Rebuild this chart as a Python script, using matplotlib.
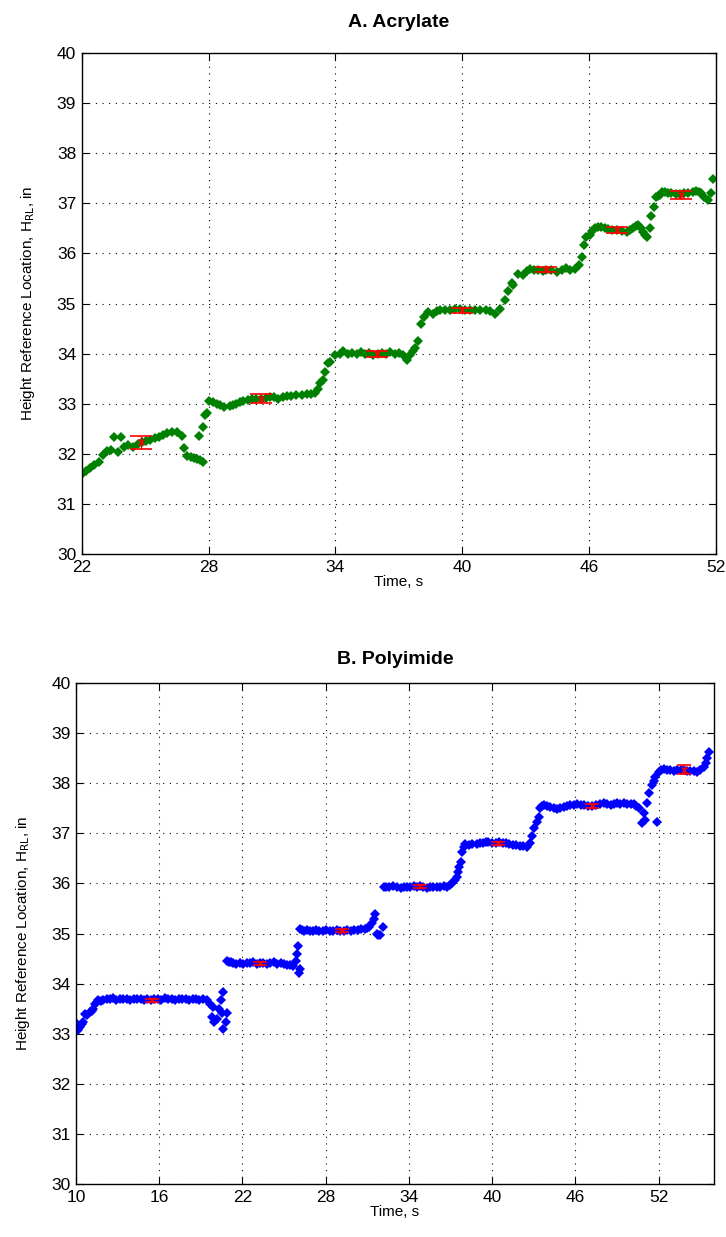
import matplotlib
matplotlib.use("Agg")
import matplotlib.pyplot as plt

plt.rcParams['font.family'] = ['Liberation Sans', 'DejaVu Sans']

# ----- Data: A. Acrylate (time s, height in) -----
acr_t = [22.0, 22.2, 22.4, 22.6, 22.8, 23.0, 23.2, 23.4, 23.55, 23.7, 23.85, 24.0,
         24.2, 24.45, 24.65, 24.85, 25.05, 25.25, 25.45, 25.65, 25.85, 26.05, 26.25,
         26.5, 26.75, 26.85, 26.97, 27.15, 27.3, 27.45, 27.6, 27.75, 27.55, 27.72,
         27.83, 27.92, 28.0, 28.2, 28.4, 28.55, 28.75, 29.0, 29.15, 29.3, 29.5, 29.65,
         29.85, 30.05, 30.25, 30.5, 30.7, 30.9, 31.1, 31.3, 31.5, 31.7, 31.9, 32.15,
         32.4, 32.65, 32.85, 33.05, 33.2, 33.28, 33.4, 33.5, 33.66, 33.75, 33.98, 34.2,
         34.37, 34.6, 34.8, 35.0, 35.2, 35.4, 35.6, 35.8, 36.0, 36.2, 36.4, 36.6, 36.8,
         37.0, 37.2, 37.37, 37.53, 37.65, 37.76, 37.92, 38.03, 38.19, 38.4, 38.63, 38.8,
         38.95, 39.2, 39.42, 39.65, 39.9, 40.15, 40.37, 40.6, 40.84, 41.1, 41.32, 41.55,
         41.79, 42.01, 42.17, 42.33, 42.41, 42.64, 42.88, 43.05, 43.2, 43.4, 43.59, 43.8,
         43.98, 44.2, 44.46, 44.7, 44.93, 45.1, 45.32, 45.53, 45.64, 45.75, 45.87, 46.03,
         46.15, 46.27, 46.4, 46.58, 46.75, 46.9, 47.1, 47.3, 47.55, 47.77, 47.95, 48.08,
         48.2, 48.32, 48.45, 48.55, 48.65, 48.74, 48.87, 48.95, 49.06, 49.15, 49.25,
         49.34, 49.45, 49.58, 49.75, 49.89, 50.1, 50.28, 50.5, 50.67, 50.9, 51.07, 51.2,
         51.3, 51.45, 51.62, 51.78, 51.86]
acr_h = [31.60, 31.65, 31.71, 31.78, 31.84, 31.98, 32.05, 32.08, 32.34, 32.04, 32.33, 32.14,
         32.18, 32.14, 32.20, 32.24, 32.26, 32.28, 32.31, 32.34, 32.38, 32.42, 32.44,
         32.43, 32.36, 32.11, 31.96, 31.93, 31.91, 31.89, 31.87, 31.83, 32.36, 32.54,
         32.77, 32.82, 33.06, 33.04, 33.00, 32.97, 32.93, 32.95, 32.98, 33.00, 33.03, 33.06,
         33.08, 33.10, 33.09, 33.10, 33.12, 33.14, 33.13, 33.10, 33.13, 33.15, 33.16, 33.17,
         33.18, 33.19, 33.20, 33.22, 33.30, 33.41, 33.47, 33.64, 33.82, 33.84, 33.97, 34.00,
         34.06, 34.00, 34.02, 33.99, 34.03, 34.00, 34.01, 33.98, 34.00, 34.02, 33.99, 34.03, 34.00,
         34.01, 33.98, 33.87, 33.97, 34.05, 34.12, 34.25, 34.59, 34.74, 34.84, 34.80, 34.86,
         34.88, 34.87, 34.88, 34.89, 34.90, 34.88, 34.87, 34.88, 34.87, 34.88, 34.86, 34.80,
         34.90, 35.07, 35.26, 35.42, 35.37, 35.60, 35.57, 35.65, 35.68, 35.66, 35.67, 35.65,
         35.67, 35.66, 35.63, 35.67, 35.70, 35.66, 35.68, 35.77, 35.93, 36.17, 36.33, 36.37,
         36.45, 36.50, 36.52, 36.53, 36.50, 36.48, 36.46, 36.47, 36.45, 36.43, 36.47, 36.50,
         36.54, 36.57, 36.50, 36.43, 36.37, 36.32, 36.50, 36.75, 36.92, 37.12, 37.15,
         37.17, 37.22, 37.23, 37.21, 37.20, 37.19, 37.18, 37.20, 37.20, 37.22, 37.25, 37.23,
         37.20, 37.13, 37.06, 37.21, 37.48]

# mean +/- error per step (red)
acr_eb_t = [24.8, 30.48, 35.95, 40.0, 43.98, 47.3, 50.33]
acr_eb_h = [32.23, 33.10, 34.00, 34.87, 35.67, 36.47, 37.17]
acr_eb_e = [0.125, 0.09, 0.06, 0.05, 0.05, 0.06, 0.08]

# ----- Data: B. Polyimide -----
poly_t = [9.95, 10.1, 10.17, 10.29, 10.4, 10.53, 10.65, 10.8, 11.01, 11.15, 11.25, 11.37,
          11.5, 11.61, 11.8, 11.97, 12.2, 12.45, 12.69, 12.9, 13.15, 13.4, 13.65, 13.9,
          14.15, 14.4, 14.65, 14.9, 15.15, 15.4, 15.65, 15.9, 16.15, 16.4, 16.65, 16.9,
          17.15, 17.4, 17.65, 17.9, 18.15, 18.4, 18.65, 18.9, 19.15, 19.42, 19.67, 19.79,
          19.91, 19.96, 20.15, 20.34, 20.44, 20.51, 20.58, 20.63, 20.8, 20.92,
          20.87, 21.0, 21.15, 21.35, 21.55, 21.8, 22.07, 22.3, 22.55, 22.79, 23.05, 23.27,
          23.5, 23.75, 24.0, 24.24, 24.5, 24.75, 25.0, 25.2, 25.45, 25.65, 25.85, 25.95,
          26.0, 26.05, 26.12,
          26.16, 26.3, 26.45, 26.64, 26.85, 27.08, 27.3, 27.55, 27.8, 28.05, 28.3, 28.55,
          28.8, 29.05, 29.3, 29.55, 29.8, 30.05, 30.3, 30.55, 30.8, 30.97, 31.15, 31.33,
          31.45, 31.57, 31.69, 31.8, 31.93, 32.12,
          32.17, 32.35, 32.6, 32.89, 33.15, 33.4, 33.65, 33.85, 34.09, 34.35, 34.6, 34.81,
          35.05, 35.3, 35.55, 35.77, 36.0, 36.25, 36.5, 36.73, 36.95, 37.09, 37.3, 37.45,
          37.55, 37.64, 37.76, 37.81, 37.95, 38.05, 38.3, 38.55, 38.89, 39.1, 39.35, 39.55,
          39.73, 40.0, 40.25, 40.5, 40.75, 41.0, 41.25, 41.5, 41.75, 42.0, 42.25, 42.5,
          42.7, 42.85, 42.99, 43.23, 43.35, 43.48, 43.6, 43.72, 43.95, 44.2, 44.45, 44.68,
          44.9, 45.15, 45.4, 45.65, 45.9, 46.12, 46.4, 46.65, 46.95, 47.2, 47.5, 47.75,
          48.04, 48.3, 48.55, 48.76, 49.0, 49.25, 49.48, 49.75, 50.0, 50.2, 50.4, 50.56,
          50.8, 50.92, 51.04, 51.16, 51.33, 51.52, 51.65, 51.76, 51.88, 52.0, 52.2, 52.36,
          52.6, 52.84, 53.1, 53.35, 53.6, 53.8, 54.05, 54.3, 54.55, 54.77, 55.0, 55.25,
          55.4, 55.49, 55.61]
poly_h = [33.24, 33.12, 33.07, 33.14, 33.20, 33.24, 33.40, 33.38, 33.43, 33.45, 33.50, 33.60,
          33.63, 33.67, 33.66, 33.68, 33.70, 33.69, 33.72, 33.68, 33.70, 33.69, 33.70, 33.68,
          33.70, 33.69, 33.70, 33.68, 33.70, 33.68, 33.69, 33.70, 33.68, 33.71, 33.69, 33.70,
          33.68, 33.70, 33.69, 33.70, 33.68, 33.69, 33.70, 33.68, 33.69, 33.67, 33.60, 33.33,
          33.53, 33.24, 33.29, 33.50, 33.67, 33.42, 33.84, 33.09, 33.24, 33.42,
          34.45, 34.44, 34.43, 34.42, 34.40, 34.41, 34.39, 34.41, 34.42, 34.44, 34.40, 34.41,
          34.42, 34.40, 34.42, 34.44, 34.40, 34.41, 34.39, 34.38, 34.37, 34.36, 34.45, 34.60,
          34.75, 34.22, 34.30,
          35.10, 35.08, 35.06, 35.08, 35.05, 35.06, 35.07, 35.05, 35.06, 35.07, 35.05, 35.06,
          35.07, 35.05, 35.06, 35.07, 35.06, 35.08, 35.07, 35.09, 35.10, 35.11, 35.14, 35.21,
          35.30, 35.40, 35.00, 34.98, 34.97, 35.14,
          35.92, 35.93, 35.92, 35.94, 35.93, 35.90, 35.92, 35.93, 35.93, 35.94, 35.92, 35.94,
          35.93, 35.91, 35.93, 35.92, 35.93, 35.92, 35.94, 35.93, 35.96, 36.00, 36.06, 36.13,
          36.22, 36.32, 36.43, 36.63, 36.72, 36.78, 36.77, 36.78, 36.79, 36.80, 36.80, 36.82,
          36.83, 36.80, 36.81, 36.82, 36.80, 36.81, 36.78, 36.77, 36.76, 36.75, 36.74, 36.73,
          36.80, 36.95, 37.10, 37.23, 37.33, 37.50, 37.54, 37.56, 37.54, 37.52, 37.50, 37.48,
          37.50, 37.53, 37.55, 37.56, 37.57, 37.58, 37.56, 37.57, 37.55, 37.55, 37.57, 37.58,
          37.60, 37.59, 37.57, 37.58, 37.60, 37.59, 37.61, 37.59, 37.58, 37.58, 37.55, 37.50,
          37.21, 37.40, 37.26, 37.60, 37.80, 37.96, 38.05, 38.13, 37.23, 38.23, 38.26, 38.28,
          38.27, 38.26, 38.25, 38.27, 38.26, 38.26, 38.25, 38.24, 38.25, 38.23, 38.26, 38.32,
          38.40, 38.50, 38.63]

poly_eb_t = [15.46, 23.27, 29.17, 34.81, 40.4, 47.2, 53.8]
poly_eb_h = [33.67, 34.41, 35.06, 35.94, 36.80, 37.55, 38.27]
poly_eb_e = [0.03, 0.03, 0.03, 0.03, 0.03, 0.04, 0.09]

y_ticks = list(range(30, 41))
acr_xticks = [22, 28, 34, 40, 46, 52]
poly_xticks = [10, 16, 22, 28, 34, 40, 46, 52]


def style_axes(ax, xlim, xticks, title, title_pad):
    ax.set_xlim(*xlim)
    ax.set_ylim(30, 40)
    ax.set_xticks(xticks)
    ax.set_yticks(y_ticks)
    ax.grid(True, color='black', linestyle=(0, (1, 5)), linewidth=0.8)
    ax.tick_params(direction='in', top=True, right=True, length=5,
                   labelsize=12.5, colors='black', pad=4)
    for s in ax.spines.values():
        s.set_linewidth(1.0)
        s.set_color('black')
    ax.set_xlabel("Time, s", fontsize=11, labelpad=0)
    ax.set_ylabel("Height Reference Location, H$_{\\mathrm{RL}}$, in", fontsize=11, labelpad=14)
    ax.set_title(title, fontsize=14, fontweight='bold', pad=title_pad)


fig = plt.figure(figsize=(7.26, 12.37), dpi=100)

# Acrylate
ax1 = fig.add_axes([0.1125, 0.5521, 0.8737, 0.405])
ax1.plot(acr_t, acr_h, linestyle='none', marker='D', markersize=5,
         color='#008000', markeredgewidth=0)
ax1.errorbar(acr_eb_t, acr_eb_h, yerr=acr_eb_e, fmt='x', color='red',
             ecolor='red', capsize=8, markersize=5, elinewidth=1, capthick=1.2)
style_axes(ax1, (22, 52), acr_xticks, "A. Acrylate", 19)

# Polyimide
ax2 = fig.add_axes([0.1047, 0.0428, 0.8788, 0.405])
ax2.plot(poly_t, poly_h, linestyle='none', marker='D', markersize=4.8,
         color='#0000ff', markeredgewidth=0)
ax2.errorbar(poly_eb_t, poly_eb_h, yerr=poly_eb_e, fmt='x', color='red',
             ecolor='red', capsize=5, markersize=5, elinewidth=1, capthick=1.2)
style_axes(ax2, (10, 56), poly_xticks, "B. Polyimide", 14)

fig.savefig("out.png", dpi=100)
